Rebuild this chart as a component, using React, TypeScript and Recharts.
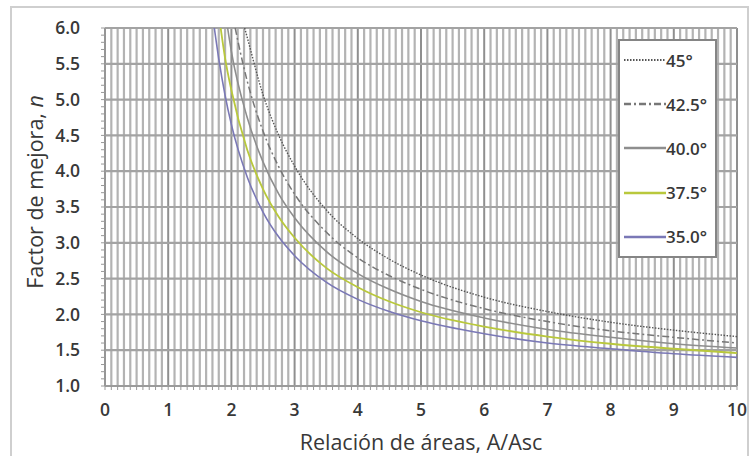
import React from 'react';
import { LineChart, Line, XAxis, YAxis, ReferenceLine, Legend, Label } from 'recharts';

// A/Asc values and improvement factor n
const ratio45 = [2.21, 2.25, 2.5, 2.75, 3, 3.5, 4, 4.5, 5, 6, 7, 8, 9, 10];
const n45 = [6.0, 5.87, 5.07, 4.5, 4.07, 3.46, 3.06, 2.77, 2.55, 2.24, 2.04, 1.89, 1.78, 1.69];

const ratio425 = [2.06, 2.1, 2.25, 2.5, 2.75, 3, 3.5, 4, 4.5, 5, 6, 7, 8, 9, 10];
const n425 = [6.0, 5.83, 5.26, 4.56, 4.06, 3.68, 3.15, 2.79, 2.54, 2.35, 2.08, 1.9, 1.77, 1.68, 1.6];

const ratio40 = [1.94, 2, 2.25, 2.5, 2.75, 3, 3.5, 4, 4.5, 5, 6, 7, 8, 9, 10];
const n40 = [6.0, 5.67, 4.75, 4.13, 3.68, 3.35, 2.88, 2.57, 2.35, 2.18, 1.95, 1.79, 1.68, 1.59, 1.53];

const ratio375 = [1.83, 1.9, 2, 2.25, 2.5, 2.75, 3, 3.5, 4, 4.5, 5, 6, 7, 8, 9, 10];
const n375 = [6.0, 5.58, 5.13, 4.3, 3.75, 3.36, 3.07, 2.65, 2.38, 2.18, 2.03, 1.83, 1.69, 1.59, 1.52, 1.46];

const ratio35 = [1.73, 1.8, 1.9, 2, 2.25, 2.5, 2.75, 3, 3.5, 4, 4.5, 5, 6, 7, 8, 9, 10];
const n35 = [6.0, 5.57, 5.06, 4.65, 3.92, 3.43, 3.08, 2.82, 2.45, 2.21, 2.04, 1.91, 1.73, 1.6, 1.52, 1.45, 1.4];

const xMajorTicks = [0, 1, 2, 3, 4, 5, 6, 7, 8, 9, 10];
const yMajorTicks = [1.0, 1.5, 2.0, 2.5, 3.0, 3.5, 4.0, 4.5, 5.0, 5.5, 6.0];
const xMinorTicks = Array.from({ length: 101 }, (_, i) => i / 10);
const yMinorTicks = Array.from({ length: 51 }, (_, i) => 1 + i / 10);

const toPoints = (xs: number[], ys: number[]) => xs.map((r, i) => ({ r, n: ys[i] }));

const series = [
  { name: '45°', data: toPoints(ratio45, n45), stroke: '#555', dash: '1.5 1.5', width: 1.4 },
  { name: '42.5°', data: toPoints(ratio425, n425), stroke: '#777', dash: '7 3 2 3', width: 1.5 },
  { name: '40.0°', data: toPoints(ratio40, n40), stroke: '#8e8e8e', dash: undefined, width: 1.6 },
  { name: '37.5°', data: toPoints(ratio375, n375), stroke: '#b9c83c', dash: undefined, width: 1.8 },
  { name: '35.0°', data: toPoints(ratio35, n35), stroke: '#7a78b6', dash: undefined, width: 1.6 },
];

const FONT = '"Open Sans", sans-serif';
const TEXT = '#383838';

const isInt = (v: number) => Math.abs(v - Math.round(v)) < 1e-6;

const XTick = (props: any) => {
  const { x, y, payload } = props;
  if (!isInt(payload.value)) return <g />;
  return (
    <text x={x} y={y + 24} textAnchor="middle" fontSize={17.5} fontWeight={600} fontFamily={FONT} fill={TEXT}>
      {Math.round(payload.value)}
    </text>
  );
};

const YTick = (props: any) => {
  const { x, y, payload } = props;
  if (!isInt(payload.value * 2)) return <g />;
  return (
    <text x={x - 19} y={y} dy="0.35em" textAnchor="end" fontSize={17.5} fontWeight={600} fontFamily={FONT} fill={TEXT}>
      {payload.value.toFixed(1)}
    </text>
  );
};

const LegendBox = () => (
  <div
    style={{
      width: 99,
      height: 219,
      boxSizing: 'border-box',
      border: '2px solid #858585',
      background: '#fff',
      fontFamily: FONT,
      fontSize: 17,
      fontWeight: 600,
      color: TEXT,
      paddingTop: 0,
      overflow: 'hidden',
    }}
  >
    {series.map((s, i) => (
      <div
        key={s.name}
        style={{ display: 'flex', alignItems: 'center', height: 44.2, marginTop: i === 0 ? -3 : 0 }}
      >
        <svg width={42} height={6} style={{ marginLeft: 4, flexShrink: 0 }}>
          <line x1={0} y1={3} x2={42} y2={3} stroke={s.stroke} strokeWidth={s.width + 0.8} strokeDasharray={s.dash} />
        </svg>
        <span style={{ whiteSpace: 'nowrap' }}>{s.name}</span>
      </div>
    ))}
  </div>
);

export default function App() {
  return (
    <div style={{ position: 'absolute', left: 0, top: 0, width: 751, height: 456, background: '#fff' }}>
      <div
        style={{
          position: 'absolute',
          left: 10,
          top: 6,
          width: 739,
          height: 470,
          boxSizing: 'border-box',
          border: '2px solid #cfcfcf',
        }}
      />
      <LineChart width={751} height={456} margin={{ top: 28, right: 14, left: 0, bottom: 0 }}>
        <XAxis
          dataKey="r"
          type="number"
          domain={[0, 10]}
          ticks={xMinorTicks}
          interval={0}
          tick={<XTick />}
          tickSize={4}
          tickLine={{ stroke: '#999' }}
          axisLine={{ stroke: '#999', strokeWidth: 1.5 }}
          height={70}
          allowDataOverflow
        >
          <Label
            content={() => (
              <text x={421} y={450} textAnchor="middle" fontSize={21.5} fontFamily={FONT} fill={TEXT}>
                Relación de áreas, A/Asc
              </text>
            )}
          />
        </XAxis>
        <YAxis
          dataKey="n"
          type="number"
          domain={[1, 6]}
          ticks={yMinorTicks}
          interval={0}
          tick={<YTick />}
          tickSize={4}
          tickLine={{ stroke: '#999' }}
          axisLine={{ stroke: '#999', strokeWidth: 1.5 }}
          width={105}
          allowDataOverflow
        >
          <Label
            content={() => (
              <text
                x={34}
                y={192}
                transform="rotate(-90 34 192)"
                textAnchor="middle"
                dominantBaseline="central"
                fontSize={21.5}
                fontFamily={FONT}
                fill={TEXT}
              >
                Factor de mejora, <tspan fontStyle="italic">n</tspan>
              </text>
            )}
          />
        </YAxis>
        {xMinorTicks.filter((v) => !isInt(v)).map((v) => (
          <ReferenceLine key={'vx' + v} x={v} stroke="#b3b3b3" strokeWidth={2.2} />
        ))}
        {xMajorTicks.map((v) => (
          <ReferenceLine key={'mx' + v} x={v} stroke="#8f8f8f" strokeWidth={2} />
        ))}
        {yMajorTicks.map((v) => (
          <ReferenceLine key={'hy' + v} y={v} stroke="#a3a3a3" strokeWidth={2.2} />
        ))}
        {series.map((s) => (
          <Line
            key={s.name}
            data={s.data}
            dataKey="n"
            name={s.name}
            type="monotone"
            stroke={s.stroke}
            strokeWidth={s.width}
            strokeDasharray={s.dash}
            dot={false}
            activeDot={false}
            isAnimationActive={false}
          />
        ))}
        <Legend
          layout="vertical"
          align="center"
          verticalAlign="middle"
          wrapperStyle={{ left: 618, top: 39, width: 99, height: 219 }}
          content={() => <LegendBox />}
        />
      </LineChart>
    </div>
  );
}
